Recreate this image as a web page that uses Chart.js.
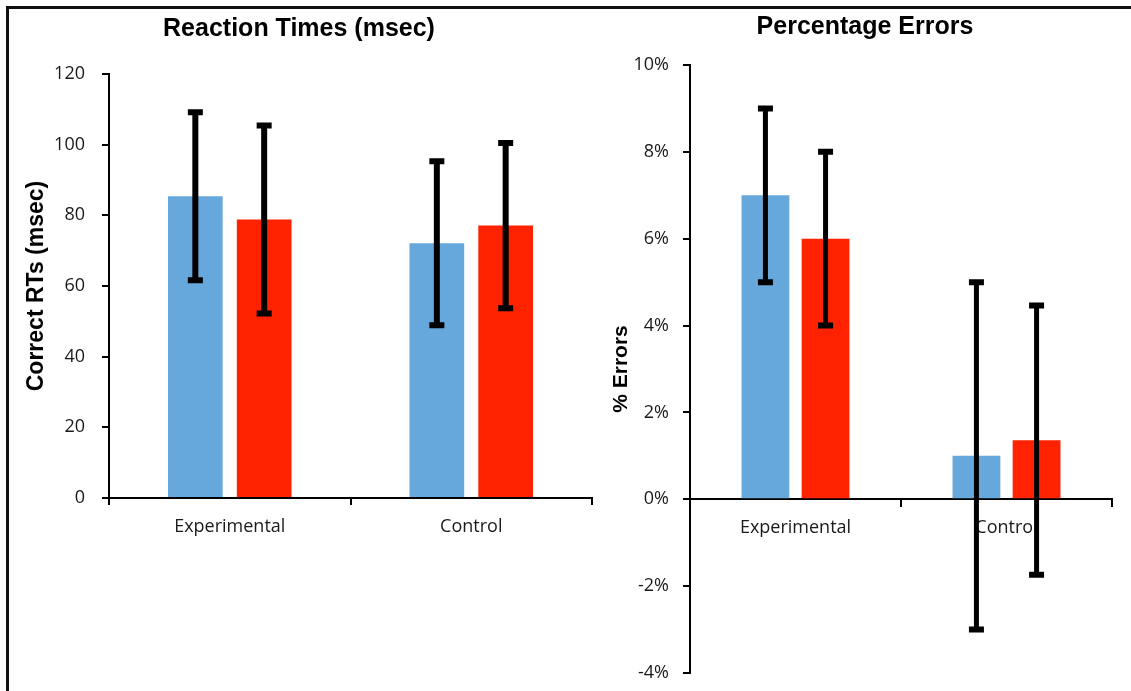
<!DOCTYPE html>
<html>
<head>
<meta charset="utf-8">
<script src="https://cdn.jsdelivr.net/npm/chart.js@4.4.1/dist/chart.umd.min.js"></script>
<style>
  html, body { margin: 0; padding: 0; background: #fff; overflow: hidden; }
  body { width: 1131px; height: 691px; position: relative; }
  canvas { position: absolute; top: 0; }
  #rtChart { left: 0; }
  #errChart { left: 599px; }
  .frame { position: absolute; left: 6px; top: 6px; width: 1140px; height: 700px;
           border-left: 3px solid #111; border-top: 3px solid #111; }
</style>
</head>
<body>
<canvas id="rtChart" width="596" height="691"></canvas>
<canvas id="errChart" width="532" height="691"></canvas>
<div class="frame"></div>
<script>
// Data
const groups = ['Experimental', 'Control'];

const rtBlue = [85.4, 72.1];
const rtBlueErr = [23.8, 23.2];
const rtRed = [78.8, 77.1];
const rtRedErr = [26.6, 23.4];
const rtTicks = { min: 0, max: 120, step: 20 };

const pctBlue = [7.0, 1.0];
const pctBlueErr = [2.0, 4.0];
const pctRed = [6.0, 1.36];
const pctRedErr = [2.0, 3.1];
const pctTicks = { min: -4, max: 10, step: 2 };

const BLUE = '#67A8DC';
const RED = '#FF2200';
const tickFont = { family: 'Open Sans', size: 18 };
const boldFont = (size) => ({ family: 'Liberation Sans', size: size, weight: 'bold' });

// Error bars drawn on top of the bars
const errorBars = {
  id: 'errorBars',
  afterDatasetsDraw(chart, args, opts) {
    const ctx = chart.ctx;
    const yScale = chart.scales.y;
    ctx.save();
    ctx.strokeStyle = '#000';
    ctx.lineCap = 'butt';
    chart.data.datasets.forEach((ds, i) => {
      const meta = chart.getDatasetMeta(i);
      meta.data.forEach((bar, j) => {
        const v = ds.data[j];
        const e = ds.errors[j];
        const top = yScale.getPixelForValue(v + e);
        const bot = yScale.getPixelForValue(v - e);
        const half = opts.capWidth / 2;
        ctx.lineWidth = opts.stem;
        ctx.beginPath();
        ctx.moveTo(bar.x, top);
        ctx.lineTo(bar.x, bot);
        ctx.stroke();
        ctx.lineWidth = opts.cap;
        ctx.beginPath();
        ctx.moveTo(bar.x - half, top);
        ctx.lineTo(bar.x + half, top);
        ctx.moveTo(bar.x - half, bot);
        ctx.lineTo(bar.x + half, bot);
        ctx.stroke();
      });
    });
    ctx.restore();
  }
};

const axisGrid = { drawOnChartArea: false, color: '#000', lineWidth: 2, tickLength: 7 };
const axisBorder = { color: '#000', width: 2 };

// Left: reaction times
new Chart(document.getElementById('rtChart'), {
  type: 'bar',
  data: {
    labels: groups,
    datasets: [
      { label: 'Series 1', data: rtBlue, errors: rtBlueErr, backgroundColor: BLUE },
      { label: 'Series 2', data: rtRed, errors: rtRedErr, backgroundColor: RED }
    ]
  },
  options: {
    responsive: false,
    animation: false,
    categoryPercentage: 0.57,
    barPercentage: 0.795,
    layout: { padding: { left: 6, right: 4, top: 0, bottom: 133 } },
    plugins: {
      legend: { display: false },
      tooltip: { enabled: false },
      title: {
        display: true,
        text: 'Reaction Times (msec)',
        color: '#000',
        font: boldFont(25),
        padding: { top: 14, bottom: 30 }
      },
      errorBars: { stem: 6, cap: 6, capWidth: 15 }
    },
    scales: {
      x: {
        grid: { ...axisGrid, offset: true },
        border: axisBorder,
        ticks: { font: tickFont, color: '#1a1a1a', padding: 11, maxRotation: 0 },
        afterFit: (s) => { s.height = 60; }
      },
      y: {
        min: rtTicks.min,
        max: rtTicks.max,
        grid: axisGrid,
        border: axisBorder,
        ticks: { stepSize: rtTicks.step, font: tickFont, color: '#1a1a1a', padding: 17 },
        title: {
          display: true,
          text: 'Correct RTs (msec)',
          color: '#000',
          font: boldFont(23),
          padding: { top: 17, bottom: 0 }
        },
        afterFit: (s) => { s.width = 103; }
      }
    }
  },
  plugins: [errorBars]
});

// Right: percentage errors
new Chart(document.getElementById('errChart'), {
  type: 'bar',
  data: {
    labels: groups,
    datasets: [
      { label: 'Series 1', data: pctBlue, errors: pctBlueErr, backgroundColor: BLUE },
      { label: 'Series 2', data: pctRed, errors: pctRedErr, backgroundColor: RED }
    ]
  },
  options: {
    responsive: false,
    animation: false,
    categoryPercentage: 0.57,
    barPercentage: 0.795,
    layout: { padding: { left: 19, right: 19, top: 0, bottom: 18 } },
    plugins: {
      legend: { display: false },
      tooltip: { enabled: false },
      title: {
        display: true,
        text: 'Percentage Errors',
        color: '#000',
        font: boldFont(25),
        padding: { top: 12, bottom: 23 }
      },
      errorBars: { stem: 5, cap: 6, capWidth: 15 }
    },
    scales: {
      x: {
        position: { y: 0 },
        grid: { ...axisGrid, offset: true },
        border: axisBorder,
        ticks: { font: tickFont, color: '#1a1a1a', padding: 11, maxRotation: 0 }
      },
      y: {
        min: pctTicks.min,
        max: pctTicks.max,
        grid: axisGrid,
        border: axisBorder,
        ticks: {
          stepSize: pctTicks.step,
          font: tickFont,
          color: '#1a1a1a',
          padding: 14,
          callback: (v) => v + '%'
        },
        title: {
          display: true,
          text: '% Errors',
          color: '#000',
          font: boldFont(21),
          padding: { top: -9, bottom: 0 }
        },
        afterFit: (s) => {
          s.width = 72;
          s.paddingTop = 0;
          s.paddingBottom = 0;
        }
      }
    }
  },
  plugins: [errorBars]
});
</script>
</body>
</html>
